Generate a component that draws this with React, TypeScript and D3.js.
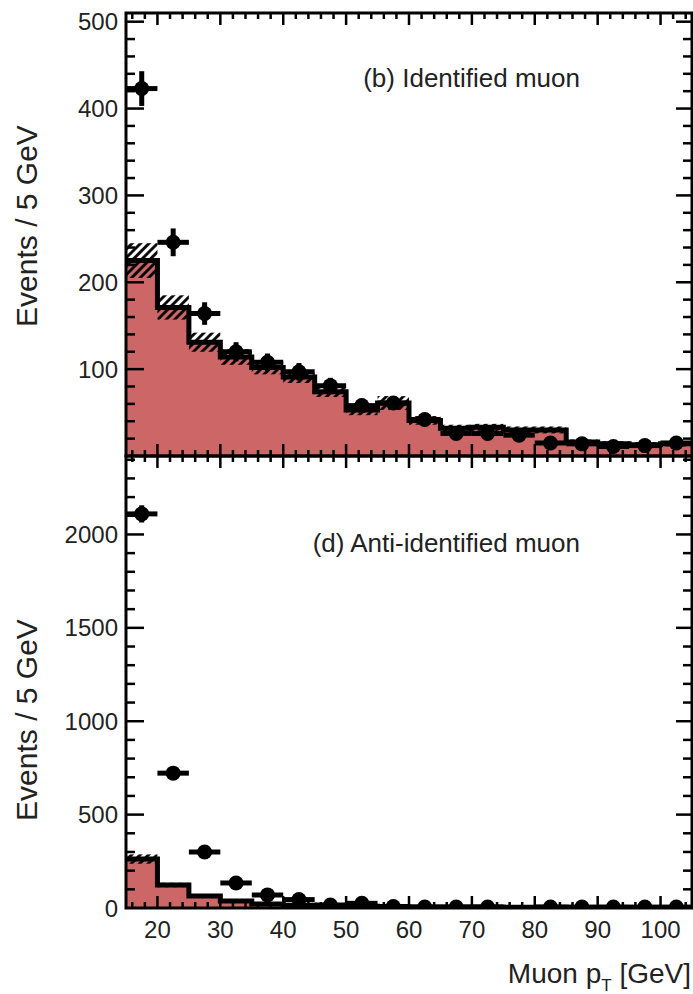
import React, { useEffect, useRef } from "react";
import * as d3 from "d3";

// Bin lower edges (GeV), bin width 5 GeV
const binLow = [15, 20, 25, 30, 35, 40, 45, 50, 55, 60, 65, 70, 75, 80, 85, 90, 95, 100];
const binWidth = 5;

// (b) Identified muon
const idMC = [225, 171, 131, 114, 102, 91, 74, 53, 61, 41, 32, 33, 30, 30, 16, 14, 13, 14];
const idMCErr = [20, 14, 11, 9, 8, 7, 6, 6, 8, 5, 4, 4, 4, 4, 3, 3, 3, 3];
const idData = [423, 246, 164, 120, 108, 97, 81, 58, 61, 42, 26, 26, 24, 15, 14, 11, 12, 15];
const idDataErr = [20, 16, 13, 11, 10, 10, 9, 8, 8, 6, 5, 5, 5, 4, 4, 3, 3, 4];

// (d) Anti-identified muon
const antiMC = [262, 123, 64, 38, 22, 15, 10, 9, 7, 6, 5, 5, 4, 4, 3, 3, 3, 3];
const antiMCErr = [25, 12, 6, 4, 3, 2, 2, 2, 1, 1, 1, 1, 1, 1, 1, 1, 1, 1];
const antiData: (number | null)[] = [2110, 722, 300, 134, 70, 45, 16, 25, 8, 5, 5, 5, null, 5, 5, 5, 5, 5];
const antiDataErr: (number | null)[] = [46, 27, 17, 12, 8, 7, 4, 5, 3, 2, 2, 2, null, 2, 2, 2, 2, 2];

const xTickLabels = [20, 30, 40, 50, 60, 70, 80, 90, 100];
const idYTicks = [100, 200, 300, 400, 500];
const antiYTicks = [0, 500, 1000, 1500, 2000];

const FONT = "'Liberation Sans', Arial, Helvetica, sans-serif";
const FILL = "#cd6666";

export default function App() {
  const ref = useRef<SVGSVGElement>(null);

  useEffect(() => {
    const svg = d3.select(ref.current);
    svg.selectAll("*").remove();

    const W = 693, H = 994;
    const left = 126, right = 692;
    const x = d3.scaleLinear().domain([15, 105]).range([left, right]);

    const defs = svg.append("defs");
    const pat = defs
      .append("pattern")
      .attr("id", "hatch")
      .attr("patternUnits", "userSpaceOnUse")
      .attr("width", 6)
      .attr("height", 6)
      .attr("patternTransform", "rotate(45)");
    pat.append("line").attr("x1", 1.5).attr("y1", 0).attr("x2", 1.5).attr("y2", 6)
      .attr("stroke", "#000").attr("stroke-width", 2.8);

    const panels = [
      {
        id: "top", top: 13, bottom: 456, ymax: 510,
        mc: idMC, mcErr: idMCErr, data: idData as (number | null)[], dataErr: idDataErr as (number | null)[],
        ticks: idYTicks, minorStep: 20, label: "(b) Identified muon", labelY: 87,
        titleY: 226, showX: false,
      },
      {
        id: "bot", top: 456, bottom: 908, ymax: 2420,
        mc: antiMC, mcErr: antiMCErr, data: antiData, dataErr: antiDataErr,
        ticks: antiYTicks, minorStep: 100, label: "(d) Anti-identified muon", labelY: 552,
        titleY: 720, showX: true,
      },
    ];

    panels.forEach((p) => {
      const y = d3.scaleLinear().domain([0, p.ymax]).range([p.bottom, p.top]);
      defs.append("clipPath").attr("id", "clip-" + p.id)
        .append("rect").attr("x", left).attr("y", p.top).attr("width", right - left).attr("height", p.bottom - p.top);
      const g = svg.append("g").attr("clip-path", `url(#clip-${p.id})`);

      const pts: [number, number][] = binLow.map((b, i) => [b, p.mc[i]]);
      pts.push([105, p.mc[p.mc.length - 1]]);

      const area = d3.area<[number, number]>()
        .x((d) => x(d[0])).y0(y(0)).y1((d) => y(d[1])).curve(d3.curveStepAfter);
      g.append("path").attr("d", area(pts)!).attr("fill", FILL);

      // hatched uncertainty band
      binLow.forEach((b, i) => {
        g.append("rect")
          .attr("x", x(b)).attr("width", x(b + binWidth) - x(b))
          .attr("y", y(p.mc[i] + p.mcErr[i]))
          .attr("height", y(p.mc[i] - p.mcErr[i]) - y(p.mc[i] + p.mcErr[i]))
          .attr("fill", "url(#hatch)");
      });

      const line = d3.line<[number, number]>()
        .x((d) => x(d[0])).y((d) => y(d[1])).curve(d3.curveStepAfter);
      g.append("path").attr("d", line(pts)!).attr("fill", "none")
        .attr("stroke", "#000").attr("stroke-width", 5);

      // data points
      binLow.forEach((b, i) => {
        const v = p.data[i];
        if (v === null) return;
        const e = p.dataErr[i] ?? 0;
        const cx = x(b + binWidth / 2);
        g.append("line").attr("x1", x(b)).attr("x2", x(b + binWidth))
          .attr("y1", y(v)).attr("y2", y(v)).attr("stroke", "#000").attr("stroke-width", 5);
        g.append("line").attr("x1", cx).attr("x2", cx)
          .attr("y1", y(v - e)).attr("y2", y(v + e)).attr("stroke", "#000").attr("stroke-width", 5);
        g.append("circle").attr("cx", cx).attr("cy", y(v)).attr("r", 7.5).attr("fill", "#000");
      });

      // frame
      const ax = svg.append("g").attr("stroke", "#000");
      ax.append("rect").attr("x", left).attr("y", p.top).attr("width", right - left)
        .attr("height", p.bottom - p.top).attr("fill", "none").attr("stroke-width", 3);

      // y ticks (left & right, inward)
      const yMinor = d3.range(0, p.ymax + 1, p.minorStep);
      yMinor.forEach((v) => {
        const major = v % (p.minorStep * 5) === 0;
        const yy = y(v);
        if (yy < p.top + 2 || yy > p.bottom - 2) return;
        ax.append("line").attr("x1", left).attr("x2", left + (major ? 18 : 9))
          .attr("y1", yy).attr("y2", yy).attr("stroke-width", 2.5);
        ax.append("line").attr("x1", right).attr("x2", right - (major ? 16 : 9))
          .attr("y1", yy).attr("y2", yy).attr("stroke-width", 2.5);
      });
      // y tick labels
      p.ticks.forEach((v) => {
        svg.append("text").attr("x", 118).attr("y", y(v) + 8.5)
          .attr("text-anchor", "end").attr("font-family", FONT).attr("font-size", 24)
          .attr("fill", "#222").text(v);
      });

      // x ticks (top & bottom, inward)
      d3.range(16, 105, 2).forEach((v) => {
        const major = v % 10 === 0;
        const xx = x(v);
        ax.append("line").attr("x1", xx).attr("x2", xx)
          .attr("y1", p.bottom).attr("y2", p.bottom - (major ? 12 : 6)).attr("stroke-width", 2.5);
        ax.append("line").attr("x1", xx).attr("x2", xx)
          .attr("y1", p.top).attr("y2", p.top + (major ? 12 : 6)).attr("stroke-width", 2.5);
      });

      // panel label
      svg.append("text").attr("x", 580).attr("y", p.labelY).attr("text-anchor", "end")
        .attr("font-family", FONT).attr("font-size", 26).attr("fill", "#222").text(p.label);

      // y title
      svg.append("text")
        .attr("transform", `translate(37,${p.titleY}) rotate(-90)`)
        .attr("text-anchor", "middle").attr("font-family", FONT).attr("font-size", 30)
        .attr("fill", "#222").text("Events / 5 GeV");

      if (p.showX) {
        xTickLabels.forEach((v) => {
          svg.append("text").attr("x", x(v)).attr("y", 938).attr("text-anchor", "middle")
            .attr("font-family", FONT).attr("font-size", 24).attr("fill", "#222").text(v);
        });
      }
    });

    // x title
    const t = svg.append("text").attr("x", 691).attr("y", 983).attr("text-anchor", "end")
      .attr("font-family", FONT).attr("font-size", 28).attr("fill", "#222");
    t.append("tspan").text("Muon p");
    t.append("tspan").attr("font-size", 17).attr("dy", 8).text("T");
    t.append("tspan").attr("dy", -8).text(" [GeV]");

    svg.attr("width", W).attr("height", H);
  }, []);

  return (
    <svg
      ref={ref}
      width={693}
      height={994}
      style={{ position: "absolute", left: 0, top: 0, background: "#fff" }}
    />
  );
}
